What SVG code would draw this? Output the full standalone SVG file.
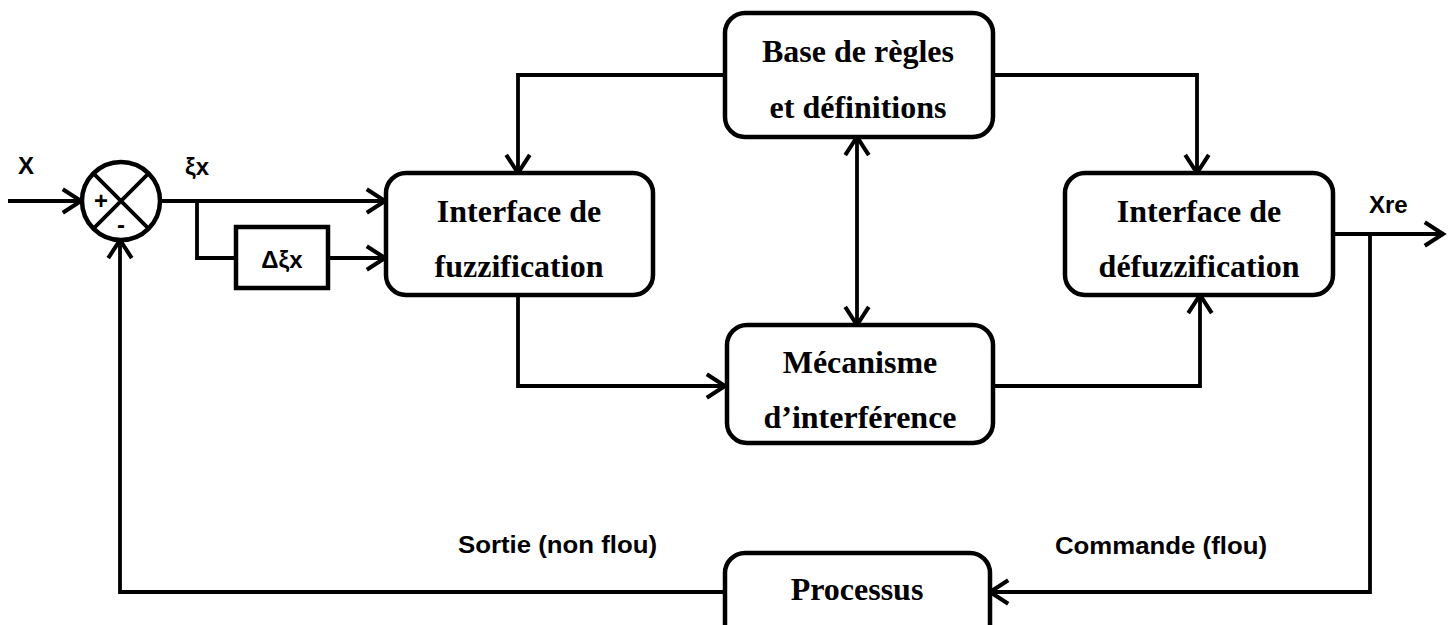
<svg xmlns="http://www.w3.org/2000/svg" width="1453" height="625" viewBox="0 0 1453 625">
<defs>
<style>
.box{fill:#fff;stroke:#000;stroke-width:4.5}
.ln{fill:none;stroke:#000;stroke-width:3.8}
.arr{marker-end:url(#ah)}
.bt{font-family:"Liberation Serif","Times New Roman",serif;font-weight:bold;font-size:32px;text-anchor:middle;fill:#000}
.lb{font-family:"Liberation Sans",Arial,sans-serif;font-weight:bold;font-size:24px;fill:#000}
</style>
<marker id="ah" markerUnits="userSpaceOnUse" markerWidth="30" markerHeight="30" viewBox="-20 -14 24 28" refX="0" refY="0" orient="auto-start-reverse" overflow="visible">
<path d="M-17,-11 L0,0 L-17,11" fill="none" stroke="#000" stroke-width="3.8"/>
</marker>
</defs>
<g id="connectors">
<path class="ln arr" d="M8,201 H81"/>
<path class="ln arr" d="M160,201 H385"/>
<path class="ln" d="M197,201 V258 H236"/>
<path class="ln arr" d="M328,258 H385"/>
<path class="ln arr" d="M725,75 H518 V173"/>
<path class="ln arr" d="M993,75 H1197 V173"/>
<path class="ln arr" d="M518,295 V386 H725"/>
<path class="ln arr" d="M993,386 H1200 V295"/>
<path class="ln arr" d="M857,137 V325" marker-start="url(#ah)"/>
<path class="ln arr" d="M1333,234 H1443"/>
<path class="ln arr" d="M1370,236 V592 H990"/>
<path class="ln arr" d="M725,592 H120 V240"/>
</g>
<g id="sum">
<circle cx="121" cy="201" r="39" fill="#fff" stroke="#000" stroke-width="4.5"/>
<path class="ln" stroke-width="4.5" d="M93.4,173.4 L148.6,228.6 M148.6,173.4 L93.4,228.6"/>
<text class="lb" x="101" y="209" font-size="21" text-anchor="middle">+</text>
<text class="lb" x="121" y="233" font-size="21" text-anchor="middle">-</text>
</g>
<g id="delta">
<rect x="236" y="227" width="92" height="61" fill="#fff" stroke="#000" stroke-width="4.5"/>
<text class="lb" x="282" y="268" text-anchor="middle">Δξx</text>
</g>
<g id="fuzz">
<rect class="box" x="386" y="173" width="267" height="122" rx="20"/>
<text class="bt" x="519" y="222">Interface de</text>
<text class="bt" x="519" y="277">fuzzification</text>
</g>
<g id="base">
<rect class="box" x="725" y="13" width="268" height="124" rx="20"/>
<text class="bt" x="858" y="62">Base de règles</text>
<text class="bt" x="858" y="118">et définitions</text>
</g>
<g id="mec">
<rect class="box" x="727" y="325" width="266" height="118" rx="20"/>
<text class="bt" x="860" y="373">Mécanisme</text>
<text class="bt" x="860" y="428">d’interférence</text>
</g>
<g id="defuzz">
<rect class="box" x="1065" y="173" width="268" height="122" rx="20"/>
<text class="bt" x="1199" y="222">Interface de</text>
<text class="bt" x="1199" y="277">défuzzification</text>
</g>
<g id="proc">
<rect class="box" x="725" y="553" width="265" height="100" rx="20"/>
<text class="bt" x="857" y="600">Processus</text>
</g>
<g id="labels">
<text class="lb" x="18" y="174">X</text>
<text class="lb" x="185" y="175">ξx</text>
<text class="lb" x="1369" y="213">Xre</text>
<text class="lb" x="458" y="553" font-size="25" textLength="199" lengthAdjust="spacingAndGlyphs">Sortie (non flou)</text>
<text class="lb" x="1055" y="554" font-size="25" textLength="212" lengthAdjust="spacingAndGlyphs">Commande (flou)</text>
</g>
</svg>
